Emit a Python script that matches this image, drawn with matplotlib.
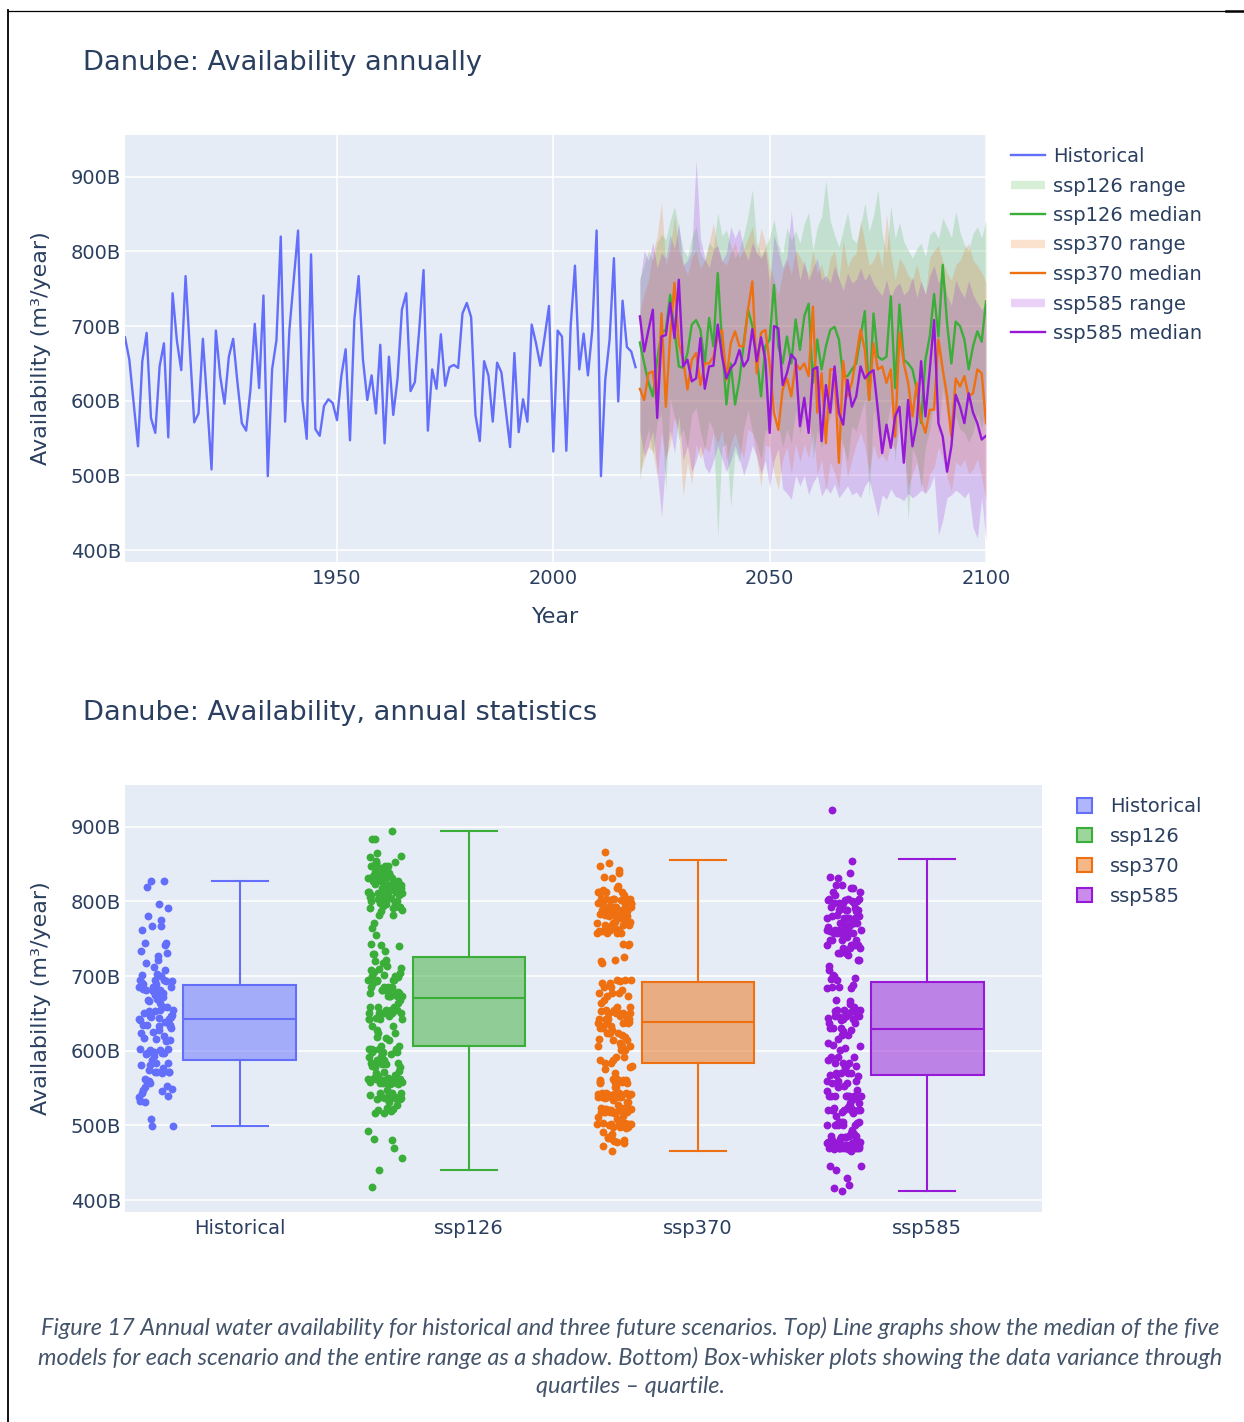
import numpy as np
import matplotlib
matplotlib.use("Agg")
import matplotlib.pyplot as plt
from matplotlib.lines import Line2D
from matplotlib.patches import Patch

# ── data (billions of m³ per year) ──────────────────────────────────────────
HIST_YEARS = list(range(1901, 2020))
HIST = [
    685, 655, 597, 539, 653, 691, 577, 557, 646, 677,
    551, 744, 680, 641, 767, 668, 571, 583, 683, 597,
    508, 694, 633, 596, 659, 683, 624, 570, 560, 615,
    703, 617, 741, 499, 642, 681, 820, 572, 695, 762,
    828, 601, 549, 796, 562, 553, 593, 602, 597, 574,
    633, 669, 547, 708, 767, 655, 601, 634, 583, 675,
    543, 659, 581, 630, 722, 744, 613, 625, 695, 775,
    560, 642, 616, 689, 620, 645, 648, 644, 717, 731,
    712, 581, 546, 653, 634, 572, 651, 638, 588, 538,
    664, 558, 602, 572, 702, 677, 647, 686, 727, 532,
    694, 686, 533, 700, 781, 642, 690, 634, 695, 828,
    499, 628, 682, 791, 599, 734, 672, 666, 645,
]

FUT_YEARS = list(range(2020, 2101))

SSP126_MED = [
    678, 650, 624, 606, 655, 691, 695, 742, 695, 646,
    644, 664, 702, 708, 695, 650, 711, 673, 771, 677,
    595, 650, 595, 628, 677, 722, 700, 659, 606, 673,
    682, 755, 673, 650, 686, 650, 709, 668, 713, 730,
    624, 682, 642, 673, 695, 699, 682, 633, 633, 642,
    650, 686, 720, 601, 717, 659, 655, 659, 740, 617,
    729, 655, 650, 642, 615, 570, 655, 686, 743, 686,
    782, 704, 650, 706, 700, 682, 642, 673, 693, 679,
    733,
]
SSP126_HI = [
    764, 782, 801, 788, 812, 823, 816, 842, 860, 831,
    803, 793, 818, 834, 798, 787, 812, 804, 852, 821,
    829, 808, 791, 803, 822, 848, 883, 813, 794, 806,
    819, 843, 809, 797, 832, 815, 828, 811, 838, 852,
    801, 833, 847, 895, 841, 822, 806, 829, 853, 818,
    812, 834, 865, 827, 848, 883, 824, 798, 861, 817,
    839, 813, 802, 791, 804, 811, 793, 823, 828, 817,
    845, 832, 819, 854, 826, 809, 801, 824, 833, 818,
    842,
]
SSP126_LO = [
    493, 541, 562, 528, 572, 583, 480, 603, 578, 548,
    563, 537, 582, 591, 558, 536, 573, 561, 418, 538,
    543, 457, 532, 517, 563, 588, 558, 543, 521, 562,
    557, 601, 568, 538, 562, 543, 587, 556, 583, 598,
    522, 561, 537, 563, 578, 603, 557, 541, 519, 566,
    559, 582, 601, 470, 592, 558, 537, 564, 598, 517,
    602, 557, 440, 536, 523, 482, 538, 561, 603, 556,
    618, 583, 537, 579, 562, 557, 544, 558, 583, 563,
    598,
]

SSP370_MED = [
    616, 601, 637, 639, 592, 717, 592, 686, 758, 677,
    655, 615, 655, 664, 621, 650, 650, 659, 686, 695,
    628, 677, 693, 673, 673, 722, 760, 637, 691, 695,
    650, 584, 561, 615, 630, 606, 650, 642, 650, 633,
    726, 584, 637, 543, 642, 642, 517, 653, 606, 624,
    659, 695, 668, 601, 677, 642, 646, 624, 642, 552,
    691, 650, 624, 579, 624, 575, 557, 588, 588, 682,
    642, 606, 552, 630, 619, 633, 606, 610, 642, 637,
    570,
]
SSP370_HI = [
    720, 743, 762, 798, 821, 866, 781, 803, 848, 802,
    783, 768, 792, 801, 777, 789, 812, 838, 803, 787,
    782, 798, 812, 791, 803, 818, 833, 797, 831, 812,
    778, 762, 741, 772, 788, 769, 802, 793, 781, 768,
    803, 771, 783, 758, 792, 801, 763, 815, 779, 792,
    798, 842, 812, 781, 788, 803, 779, 851, 797, 762,
    791, 782, 768, 761, 783, 758, 743, 792, 801, 808,
    787, 771, 762, 782, 788, 803, 811, 788, 781, 772,
    758,
]
SSP370_LO = [
    502, 521, 538, 532, 498, 558, 523, 541, 578, 562,
    472, 518, 488, 542, 522, 538, 531, 558, 543, 561,
    518, 542, 558, 537, 523, 562, 557, 522, 485, 541,
    538, 503, 481, 521, 538, 502, 543, 518, 542, 523,
    558, 501, 522, 478, 518, 503, 482, 541, 498, 521,
    542, 558, 538, 503, 541, 522, 528, 518, 543, 534,
    561, 538, 483, 502, 518, 491, 476, 502, 511, 538,
    522, 498, 479, 518, 512, 521, 502, 508, 522, 497,
    466,
]

SSP585_MED = [
    713, 666, 695, 722, 577, 686, 688, 731, 684, 762,
    646, 655, 626, 630, 684, 616, 646, 647, 702, 659,
    630, 644, 650, 668, 646, 655, 696, 653, 685, 655,
    557, 700, 697, 621, 637, 662, 655, 566, 604, 557,
    642, 645, 546, 621, 584, 646, 584, 568, 628, 592,
    606, 646, 630, 637, 641, 588, 530, 568, 537, 579,
    592, 517, 601, 539, 570, 653, 579, 642, 708, 570,
    552, 505, 539, 608, 592, 570, 610, 584, 570, 548,
    553,
]
SSP585_HI = [
    760, 801, 788, 812, 778, 798, 791, 822, 803, 838,
    782, 788, 802, 923, 818, 791, 778, 803, 808, 787,
    798, 833, 818, 831, 803, 788, 812, 798, 791, 802,
    758, 822, 801, 778, 792, 854, 798, 762, 788, 761,
    778, 791, 762, 768, 758, 781, 763, 748, 771, 758,
    762, 778, 761, 771, 757, 748, 741, 762, 738, 752,
    758, 742, 748, 766, 738, 761, 742, 768, 781, 758,
    771, 741, 728, 762, 748, 738, 761, 742, 731, 722,
    731,
]
SSP585_LO = [
    560, 525, 540, 560, 505, 445, 520, 560, 530, 580,
    520, 540, 505, 520, 540, 512, 503, 520, 540, 522,
    505, 520, 540, 523, 500, 518, 540, 526, 502, 520,
    484, 520, 536, 482, 476, 468, 500, 486, 500, 474,
    490, 500, 472, 484, 476, 488, 470, 478, 486, 474,
    478, 470, 486, 494, 470, 445, 474, 468, 482, 472,
    470, 466, 476, 470, 474, 480, 476, 484, 500, 420,
    440, 470, 474, 480, 476, 470, 478, 430, 416, 470,
    412,
]

# box statistics per category: lower whisker, q1, median, q3, upper whisker
BOX_LABELS = ["Historical", "ssp126", "ssp370", "ssp585"]
BOX_WHISLO = [499, 440, 466, 412]
BOX_Q1 = [588, 606, 584, 568]
BOX_MED = [643, 671, 639, 629]
BOX_Q3 = [688, 726, 692, 692]
BOX_WHISHI = [828, 895, 855, 857]

Y_TICKS = [400, 500, 600, 700, 800, 900]
X_TICKS = [1950, 2000, 2050, 2100]

# ── style ──────────────────────────────────────────────────────────────────
C_HIST = "#636EFA"
C_126 = "#3AAE38"
C_370 = "#EE7011"
C_585 = "#9619D8"
BG = "#E5ECF6"
FG = "#2A3F5F"
W, H = 1244, 1422

plt.rcParams["font.family"] = ["DejaVu Sans"]


def plotly_axes(ax):
    ax.set_facecolor(BG)
    for s in ax.spines.values():
        s.set_visible(False)
    ax.tick_params(length=0, labelsize=14, labelcolor=FG)
    ax.tick_params(axis="y", pad=3)
    ax.tick_params(axis="x", pad=5)
    ax.set_axisbelow(True)
    ax.grid(color="white", lw=1.1)
    ax.set_ylim(384, 956)
    ax.set_yticks(Y_TICKS)
    ax.set_yticklabels([f"{v}B" for v in Y_TICKS])


def box_rect(left, top, right, bottom):
    return [left / W, 1 - bottom / H, (right - left) / W, (bottom - top) / H]


fig = plt.figure(figsize=(W / 100, H / 100), dpi=100)

# ── top: annual series ─────────────────────────────────────────────────────
ax1 = fig.add_axes(box_rect(125, 135, 986, 562))
plotly_axes(ax1)
ax1.set_xlim(1901, 2100)
ax1.set_xticks(X_TICKS)

ax1.plot(HIST_YEARS, HIST, color=C_HIST, lw=1.7)
scenarios = [
    ("ssp126", C_126, SSP126_LO, SSP126_HI, SSP126_MED),
    ("ssp370", C_370, SSP370_LO, SSP370_HI, SSP370_MED),
    ("ssp585", C_585, SSP585_LO, SSP585_HI, SSP585_MED),
]
handles = [Line2D([], [], color=C_HIST, lw=1.7)]
labels = ["Historical"]
for name, col, lo, hi, med in scenarios:
    ax1.fill_between(FUT_YEARS, lo, hi, color=col, alpha=0.2, lw=0)
    ax1.plot(FUT_YEARS, med, color=col, lw=1.7)
    handles += [Line2D([], [], color=col, alpha=0.2, lw=6, solid_capstyle="butt"),
                Line2D([], [], color=col, lw=1.7)]
    labels += [f"{name} range", f"{name} median"]

ax1.set_xlabel("Year", fontsize=16, color=FG, labelpad=14)
ax1.set_ylabel("Availability (m³/year)", fontsize=16, color=FG)
ax1.yaxis.set_label_coords((41 - 125) / 861, 0.5)
ax1.yaxis.label.set_va("center")

fig.legend(handles, labels, loc="upper left",
           bbox_to_anchor=(1011 / W, 1 - 147 / H), frameon=False,
           fontsize=14, labelcolor=FG, handlelength=1.75, handletextpad=0.4,
           labelspacing=0.54, borderpad=0, borderaxespad=0)

fig.text(83 / W, 1 - 63 / H, "Danube: Availability annually",
         fontsize=19.6, color=FG, ha="left", va="center")

# ── bottom: box plots with all points ──────────────────────────────────────
ax2 = fig.add_axes(box_rect(125, 785, 1042, 1212))
plotly_axes(ax2)
ax2.set_xlim(-0.5, 3.5)
ax2.set_xticks(range(len(BOX_LABELS)))
ax2.set_xticklabels(BOX_LABELS)
ax2.grid(axis="x", visible=False)

box_colors = [C_HIST, C_126, C_370, C_585]
point_sets = [HIST, SSP126_LO + SSP126_MED + SSP126_HI,
              SSP370_LO + SSP370_MED + SSP370_HI,
              SSP585_LO + SSP585_MED + SSP585_HI]

for i, (vals, col) in enumerate(zip(point_sets, box_colors)):
    n = len(vals)
    # spread points evenly sideways (golden-ratio sequence)
    offs = ((np.arange(n) * 0.618034) % 1.0 - 0.5) * 0.15
    ax2.scatter(i - 0.365 + offs, vals, s=32, color=col, lw=0, zorder=3)

    stats = [dict(whislo=BOX_WHISLO[i], q1=BOX_Q1[i], med=BOX_MED[i],
                  q3=BOX_Q3[i], whishi=BOX_WHISHI[i], label=BOX_LABELS[i])]
    ax2.bxp(stats, positions=[i], widths=0.49, capwidths=0.245,
            showfliers=False, patch_artist=True, manage_ticks=False,
            boxprops=dict(facecolor=matplotlib.colors.to_rgba(col, 0.5),
                          edgecolor=col, lw=1.5),
            medianprops=dict(color=col, lw=1.5),
            whiskerprops=dict(color=col, lw=1.5),
            capprops=dict(color=col, lw=1.5), zorder=3)

ax2.set_ylabel("Availability (m³/year)", fontsize=16, color=FG)
ax2.yaxis.set_label_coords((41 - 125) / 917, 0.5)
ax2.yaxis.label.set_va("center")

box_handles = [Patch(facecolor=matplotlib.colors.to_rgba(c, 0.5), edgecolor=c, lw=1.5)
               for c in box_colors]
fig.legend(box_handles, BOX_LABELS, loc="upper left",
           bbox_to_anchor=(1077 / W, 1 - 797 / H), frameon=False,
           fontsize=14, labelcolor=FG, handlelength=0.78, handleheight=0.78,
           handletextpad=0.9, labelspacing=0.56, borderpad=0, borderaxespad=0)

fig.text(83 / W, 1 - 713 / H, "Danube: Availability, annual statistics",
         fontsize=19.6, color=FG, ha="left", va="center")

# ── caption and page frame ─────────────────────────────────────────────────
caption = ("Figure 17 Annual water availability for historical and three future scenarios. "
           "Top) Line graphs show the median of the five\n"
           "models for each scenario and the entire range as a shadow. Bottom) "
           "Box-whisker plots showing the data variance through\n"
           "quartiles \u2013 quartile.")
fig.text(630 / W, 1 - 1357 / H, caption, fontsize=16.9, color="#44546A",
         family=["Lato", "DejaVu Sans"], style="italic",
         ha="center", va="center", linespacing=1.4)

fig.add_artist(Line2D([8 / W, 8 / W], [0, 1 - 10 / H], color="black", lw=1.3))
fig.add_artist(Line2D([8 / W, 1226 / W], [1 - 10.5 / H, 1 - 10.5 / H], color="black", lw=0.9))
fig.add_artist(Line2D([1226 / W, 1 / 1], [1 - 11 / H, 1 - 11 / H], color="black", lw=1.8))

fig.savefig("out.png", dpi=100)
